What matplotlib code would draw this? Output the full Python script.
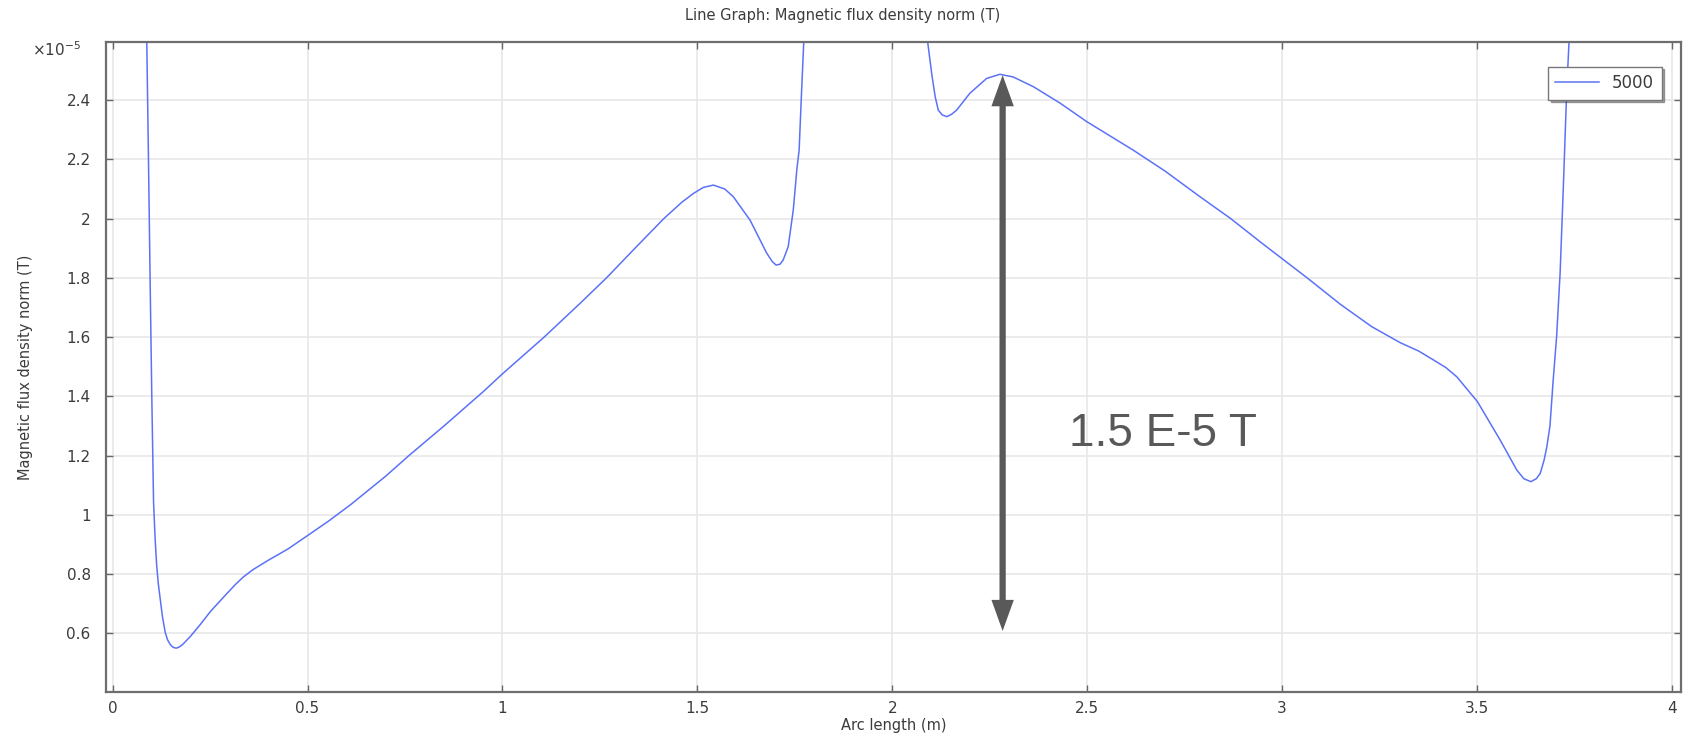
import matplotlib
matplotlib.use('Agg')
from matplotlib import pyplot as plt

# arc length (m) and |B| in units of 1e-5 T
arc_length = [0.083, 0.0876, 0.092, 0.096, 0.1005, 0.105, 0.109, 0.113, 0.117, 0.122,
              0.128, 0.135, 0.141, 0.148, 0.155, 0.163, 0.171, 0.180, 0.199, 0.225,
              0.251, 0.290, 0.315, 0.335, 0.360, 0.397, 0.450,
              0.500, 0.555, 0.612, 0.700, 0.760, 0.850, 0.950, 1.000, 1.107, 1.200,
              1.267, 1.340, 1.414, 1.460, 1.490, 1.515, 1.541, 1.570, 1.592, 1.635, 1.678,
              1.692, 1.702, 1.712, 1.720, 1.733, 1.746, 1.755, 1.761, 1.767, 1.773, 1.780,
              2.085, 2.091, 2.101, 2.110, 2.118, 2.128, 2.140, 2.152, 2.165, 2.199,
              2.242, 2.276, 2.310, 2.362, 2.430, 2.499, 2.618, 2.700, 2.789, 2.868,
              2.950, 3.064, 3.150, 3.230, 3.303, 3.350, 3.388, 3.420, 3.448, 3.501, 3.559,
              3.602, 3.620, 3.638, 3.652, 3.662, 3.672, 3.679, 3.687, 3.695, 3.704,
              3.713, 3.721, 3.730, 3.736, 3.742]
b_norm = [3.20, 2.60, 2.20, 1.81, 1.40, 1.044, 0.92, 0.83, 0.77, 0.717,
          0.655, 0.603, 0.578, 0.562, 0.553, 0.550, 0.554, 0.563, 0.589, 0.630,
          0.674, 0.730, 0.765, 0.790, 0.815, 0.845, 0.885,
          0.930, 0.980, 1.036, 1.130, 1.200, 1.300, 1.415, 1.476, 1.600, 1.715,
          1.800, 1.900, 2.000, 2.055, 2.085, 2.105, 2.113, 2.100, 2.074, 1.995, 1.883,
          1.855, 1.843, 1.846, 1.860, 1.905, 2.029, 2.164, 2.231, 2.420, 2.600, 2.850,
          2.750, 2.593, 2.490, 2.411, 2.366, 2.350, 2.344, 2.352, 2.366, 2.423,
          2.473, 2.487, 2.478, 2.445, 2.390, 2.327, 2.231, 2.160, 2.074, 2.000,
          1.915, 1.800, 1.710, 1.635, 1.581, 1.553, 1.523, 1.497, 1.466, 1.382, 1.253,
          1.151, 1.122, 1.112, 1.122, 1.140, 1.185, 1.230, 1.300, 1.450, 1.601,
          1.815, 2.096, 2.434, 2.600, 2.850]
series_name = '5000'

x_ticks = [0, 0.5, 1, 1.5, 2, 2.5, 3, 3.5, 4]
y_ticks = [0.6, 0.8, 1, 1.2, 1.4, 1.6, 1.8, 2, 2.2, 2.4]

# annotation added on top of the graph
arrow_x = 2.283
arrow_top = 2.484
arrow_bottom = 0.608
note_text = '1.5 E-5 T'

txt = '#3c3c3c'
fig = plt.figure(figsize=(16.85, 7.38), dpi=100)
ax = fig.add_axes([0.0629, 0.0627, 0.9347, 0.8804])

ax.plot(arc_length, b_norm, color='#5b72f8', lw=1.1, label=series_name)

ax.set_xlim(-0.017, 4.023)
ax.set_ylim(0.403, 2.596)
ax.set_xticks(x_ticks)
ax.set_yticks(y_ticks)
ax.set_xticklabels(['%g' % v for v in x_ticks])
ax.set_yticklabels(['%g' % v for v in y_ticks])
ax.grid(True, color='#e8e8e8', lw=1.2)
ax.set_axisbelow(True)
ax.tick_params(direction='in', length=5, width=1, color='#666666', labelsize=11,
               labelcolor=txt, top=True, right=True)
ax.tick_params(axis='y', pad=11)
ax.tick_params(axis='x', pad=7)
for s in ax.spines.values():
    s.set_color('#6e6e6e')
    s.set_linewidth(1.6)

ax.set_xlabel('Arc length (m)', fontsize=10.5, color=txt, labelpad=1)
ax.set_ylabel('Magnetic flux density norm (T)', fontsize=10.5, color=txt, labelpad=24)
fig.text(0.5, 0.979, 'Line Graph: Magnetic flux density norm (T)', ha='center', va='center',
         fontsize=10.5, color=txt)
ax.text(-0.016, 0.988, r'$\times10^{-5}$', transform=ax.transAxes, ha='right', va='center',
        fontsize=11, color=txt)

leg = ax.legend(loc='upper right', bbox_to_anchor=(0.993, 0.975), fontsize=12,
                fancybox=False, shadow=True, edgecolor='#777777', handlelength=2.6,
                borderpad=0.45, framealpha=1)
for t in leg.get_texts():
    t.set_color(txt)

ax.annotate('', xy=(arrow_x, arrow_top), xytext=(arrow_x, arrow_bottom),
            arrowprops=dict(arrowstyle='<|-|>,head_length=0.75,head_width=0.27',
                            mutation_scale=18, lw=4.5, color='#595959',
                            joinstyle='miter', capstyle='butt',
                            shrinkA=0, shrinkB=0))
ax.text(2.453, 1.273, note_text, ha='left', va='center', fontsize=33,
        color='#595959', family=['Liberation Sans', 'DejaVu Sans'])

fig.savefig('out.png', dpi=100)
